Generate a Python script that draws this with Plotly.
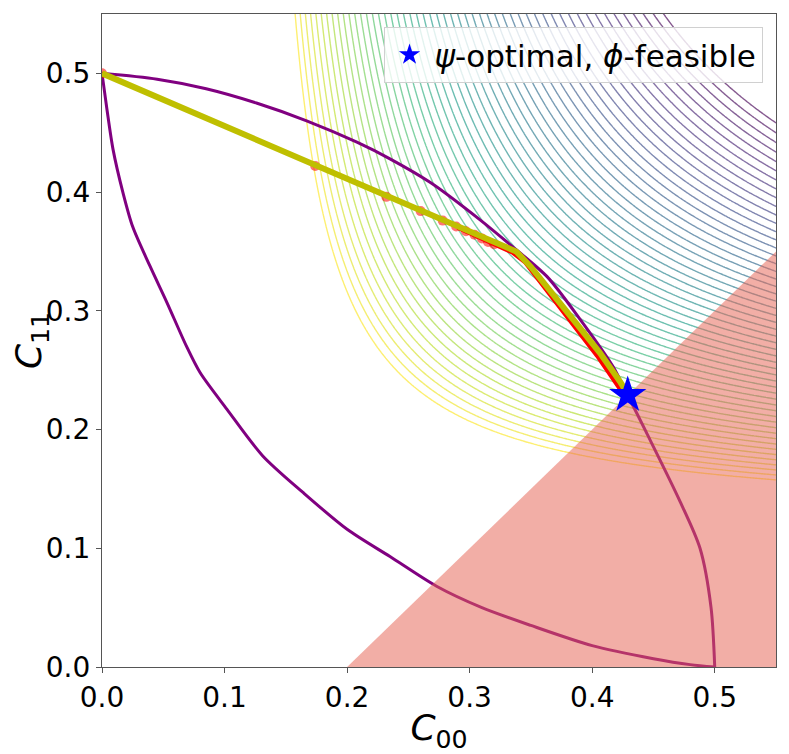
import numpy as np
import plotly.graph_objects as go

# boundary of the achievable confusion-matrix set
upper_c00 = [0.0, 0.045, 0.085, 0.126, 0.167, 0.208, 0.235, 0.268, 0.308, 0.335,
             0.363, 0.390, 0.417, 0.428, 0.444, 0.471, 0.488, 0.497, 0.5]
upper_c11 = [0.5, 0.495, 0.487, 0.475, 0.460, 0.442, 0.428, 0.408, 0.377, 0.354,
             0.329, 0.293, 0.253, 0.231, 0.198, 0.141, 0.100, 0.050, 0.0]
lower_c00 = [0.0, 0.004, 0.009, 0.017, 0.025, 0.039, 0.053, 0.069, 0.080, 0.102, 0.131,
             0.164, 0.200, 0.235, 0.273, 0.310, 0.350, 0.400, 0.450, 0.480, 0.500]
lower_c11 = [0.5, 0.470, 0.436, 0.400, 0.371, 0.338, 0.307, 0.270, 0.248, 0.217, 0.178,
             0.147, 0.116, 0.093, 0.068, 0.050, 0.035, 0.018, 0.007, 0.002, 0.0]

# optimisation path
path_c00 = [0.0, 0.338, 0.350, 0.365, 0.387, 0.406, 0.423, 0.429]
path_c11 = [0.5, 0.350, 0.337, 0.318, 0.290, 0.265, 0.240, 0.230]
red_c00 = [0.290, 0.305, 0.320, 0.335, 0.345, 0.362, 0.385, 0.404, 0.426]
red_c11 = [0.370, 0.363, 0.356, 0.349, 0.341, 0.318, 0.288, 0.262, 0.229]
iter_c00 = [0.0, 0.174, 0.232, 0.260, 0.278, 0.289, 0.297, 0.304, 0.310, 0.315, 0.320]
iter_c11 = [0.5, 0.422, 0.396, 0.384, 0.376, 0.371, 0.367, 0.364, 0.361, 0.358, 0.356]

# phi-infeasible region (C11 < C00 - 0.2)
infeasible_c00 = [0.2, 0.55, 0.55]
infeasible_c11 = [0.0, 0.35, 0.0]

star_c00 = [0.429]
star_c11 = [0.229]

# psi level sets (harmonic mean of C00, C11)
level_start, level_end, level_step = 0.245, 0.5, 0.005
grid = np.linspace(0.001, 0.56, 400)
gx, gy = np.meshgrid(grid, grid)
psi = 2.0 / (1.0 / gx + 1.0 / gy)

fig = go.Figure()
fig.add_trace(go.Contour(
    x=grid, y=grid, z=psi, colorscale='Viridis', reversescale=True,
    showscale=False, opacity=0.65, hoverinfo='skip',
    contours=dict(coloring='lines', start=level_start, end=level_end, size=level_step),
    line=dict(width=1.4), showlegend=False))
fig.add_trace(go.Scatter(x=upper_c00, y=upper_c11, mode='lines',
                         line=dict(color='purple', width=3, shape='spline', smoothing=0.8),
                         showlegend=False))
fig.add_trace(go.Scatter(x=lower_c00, y=lower_c11, mode='lines',
                         line=dict(color='purple', width=3, shape='spline', smoothing=0.8),
                         showlegend=False))
fig.add_trace(go.Scatter(x=red_c00, y=red_c11, mode='lines',
                         line=dict(color='red', width=4), showlegend=False))
fig.add_trace(go.Scatter(x=iter_c00, y=iter_c11, mode='markers',
                         marker=dict(color='red', size=10, opacity=0.55), showlegend=False))
fig.add_trace(go.Scatter(x=path_c00, y=path_c11, mode='lines',
                         line=dict(color='#bfbf00', width=6), showlegend=False))
fig.add_trace(go.Scatter(x=infeasible_c00, y=infeasible_c11, mode='lines', fill='toself',
                         fillcolor='rgba(230,100,85,0.52)', line=dict(width=0),
                         hoverinfo='skip', showlegend=False))
fig.add_trace(go.Scatter(x=star_c00, y=star_c11, mode='markers',
                         marker=dict(symbol='star', color='blue', size=28, line=dict(width=0)),
                         name='<i>ψ</i>-optimal, <i>ϕ</i>-feasible'))

axis = dict(range=[0, 0.55], tickvals=[0, 0.1, 0.2, 0.3, 0.4, 0.5], tickformat='.1f',
            showgrid=False, zeroline=False, showline=True, mirror=True, automargin=False,
            linecolor='#555555', linewidth=1.2, ticks='outside', ticklen=5,
            tickcolor='#555555', tickfont=dict(size=28, color='black'))

# page body has an 8px margin, so the figure is a bit smaller than the window
fig.update_layout(
    width=781, height=746,
    margin=dict(l=94, r=13, t=6, b=87),
    paper_bgcolor='white', plot_bgcolor='white',
    font=dict(family='DejaVu Sans', color='black'),
    xaxis=dict(axis, title=dict(text='<i>C</i><sub>00</sub>', font=dict(size=36), standoff=4)),
    yaxis=dict(axis, title=dict(text='<i>C</i><sub>11</sub>', font=dict(size=36), standoff=12)),
    legend=dict(x=0.98, y=0.98, xanchor='right', yanchor='top', itemwidth=40,
                bgcolor='rgba(255,255,255,0.8)', bordercolor='#d0d0d0', borderwidth=1,
                font=dict(size=31)),
)

fig.write_html("out.html")
